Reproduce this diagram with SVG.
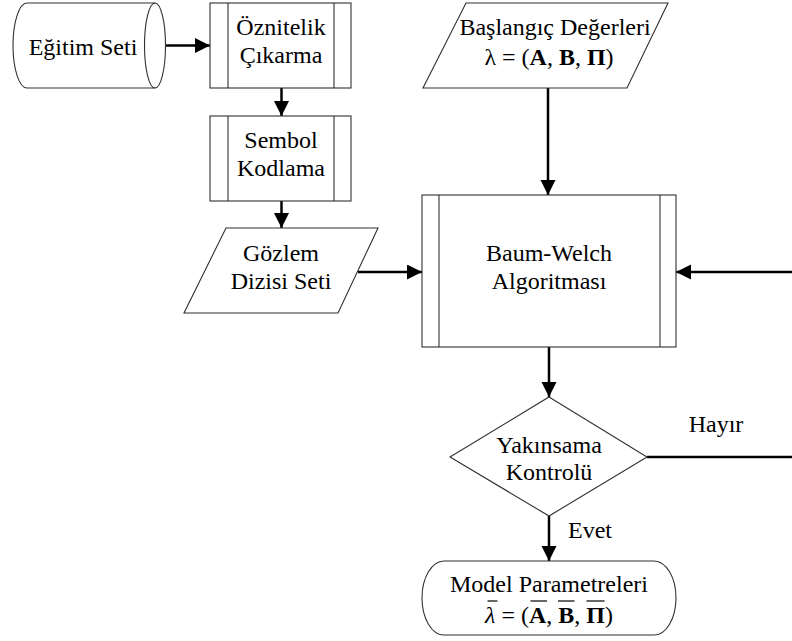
<svg xmlns="http://www.w3.org/2000/svg" width="792" height="641" viewBox="0 0 792 641">
  <style>
    .shape { fill: #ffffff; stroke: #303030; stroke-width: 1.1; }
    .inner { fill: none; stroke: #303030; stroke-width: 1.1; }
    .label { font-family: 'Liberation Serif', 'Tinos', 'DejaVu Serif', serif; font-size: 24px; fill: #000000; text-anchor: middle; }
    .flow { fill: none; stroke: #000000; stroke-width: 2.5; }
    .arrow { marker-end: url(#head); }
    .bar { stroke: #000000; stroke-width: 1.2; }
  </style>
  <defs>
    <marker id="head" markerUnits="userSpaceOnUse" markerWidth="16" markerHeight="16" refX="15" refY="7.5" orient="auto">
      <path d="M0,0 L15,7.5 L0,15 Z" fill="#000000"/>
    </marker>
  </defs>

  <rect width="792" height="641" fill="#ffffff"/>

  <!-- connectors -->
  <g id="connectors">
    <line class="flow arrow" x1="153" y1="45.5" x2="210" y2="45.5"/>
    <line class="flow arrow" x1="281.5" y1="88" x2="281.5" y2="116"/>
    <line class="flow arrow" x1="281.5" y1="201" x2="281.5" y2="228"/>
    <line class="flow arrow" x1="358" y1="272" x2="422" y2="272"/>
    <line class="flow arrow" x1="548" y1="88" x2="548" y2="195"/>
    <line class="flow arrow" x1="549" y1="347" x2="549" y2="397"/>
    <line class="flow arrow" x1="549" y1="516" x2="549" y2="561"/>
    <!-- loop back: no convergence, return to the algorithm -->
    <path class="flow arrow" d="M647,457 H800 V272 H676"/>
    <text class="label" x="716" y="432">Hayır</text>
    <text class="label" x="568" y="538" style="text-anchor:start">Evet</text>
  </g>

  <!-- training data store -->
  <g id="egitim-seti">
    <path class="shape" d="M27,3 H155 A10.5,42.5 0 0 1 155,88 H27 A14,42.5 0 0 1 27,3 Z"/>
    <path class="inner" d="M155,3 A10.5,42.5 0 0 0 155,88"/>
    <text class="label" x="83" y="55">Eğitim Seti</text>
  </g>

  <!-- feature extraction -->
  <g id="oznitelik">
    <rect class="shape" x="210" y="3" width="141" height="85"/>
    <line class="inner" x1="228" y1="3" x2="228" y2="88"/>
    <line class="inner" x1="334" y1="3" x2="334" y2="88"/>
    <text class="label" x="281" y="35">Öznitelik</text>
    <text class="label" x="281" y="63">Çıkarma</text>
  </g>

  <!-- symbol coding -->
  <g id="sembol">
    <rect class="shape" x="210" y="116" width="141" height="85"/>
    <line class="inner" x1="228" y1="116" x2="228" y2="201"/>
    <line class="inner" x1="334" y1="116" x2="334" y2="201"/>
    <text class="label" x="281" y="148">Sembol</text>
    <text class="label" x="281" y="176">Kodlama</text>
  </g>

  <!-- observation sequences -->
  <g id="gozlem">
    <polygon class="shape" points="226,228 378,228 338,313 184,313"/>
    <text class="label" x="281" y="261">Gözlem</text>
    <text class="label" x="281" y="289">Dizisi Seti</text>
  </g>

  <!-- initial values -->
  <g id="baslangic">
    <polygon class="shape" points="466,3 668,3 627,88 423,88"/>
    <text class="label" x="555" y="35">Başlangıç Değerleri</text>
    <text class="label" x="549" y="65">λ = (<tspan font-weight="bold">A</tspan>, <tspan font-weight="bold">B</tspan>, <tspan font-weight="bold">Π</tspan>)</text>
  </g>

  <!-- Baum-Welch -->
  <g id="baum-welch">
    <rect class="shape" x="422" y="195" width="254" height="152"/>
    <line class="inner" x1="439" y1="195" x2="439" y2="347"/>
    <line class="inner" x1="660" y1="195" x2="660" y2="347"/>
    <text class="label" x="549" y="261">Baum-Welch</text>
    <text class="label" x="549" y="289">Algoritması</text>
  </g>

  <!-- convergence check -->
  <g id="yakinsama">
    <polygon class="shape" points="549,397 647,457 549,516 450,457"/>
    <text class="label" x="549" y="453">Yakınsama</text>
    <text class="label" x="549" y="480">Kontrolü</text>
  </g>

  <!-- model parameters; bars mark the re-estimated values -->
  <g id="model">
    <rect class="shape" x="422" y="561" width="254" height="74" rx="22" ry="37"/>
    <text class="label" x="549" y="592">Model Parametreleri</text>
    <text class="label" x="549" y="623"><tspan font-style="italic">λ</tspan> = (<tspan font-weight="bold">A</tspan>, <tspan font-weight="bold">B</tspan>, <tspan font-weight="bold">Π</tspan>)</text>
    <line class="bar" x1="487.5" y1="601" x2="497.5" y2="601"/>
    <line class="bar" x1="530.5" y1="601" x2="547" y2="601"/>
    <line class="bar" x1="558" y1="601" x2="574.5" y2="601"/>
    <line class="bar" x1="586.5" y1="601" x2="604.5" y2="601"/>
  </g>
</svg>
